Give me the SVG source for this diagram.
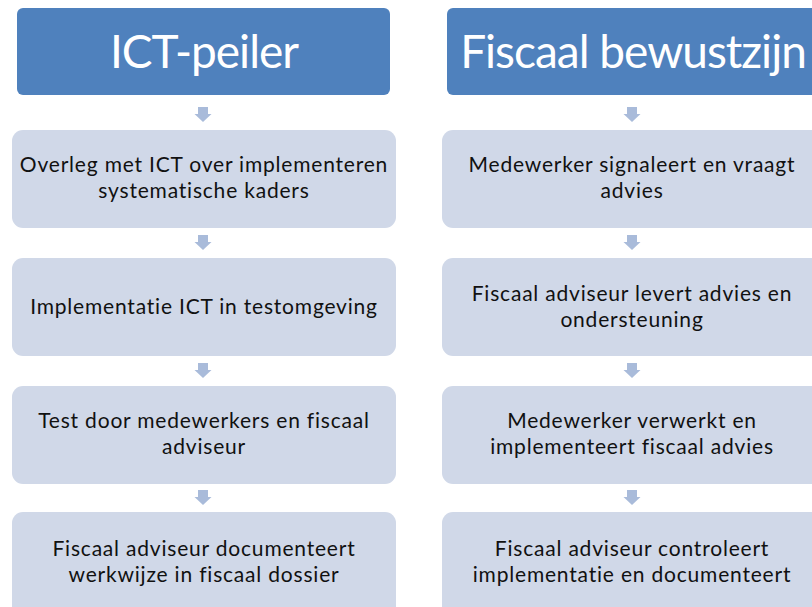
<svg xmlns="http://www.w3.org/2000/svg" width="812" height="607" viewBox="0 0 812 607">
  <defs>
    <style>
      .head { fill: #4F81BD; }
      .step { fill: #D0D8E8; }
      .arrow { fill: #A9BBDA; }
      .htxt { font-family: Lato, "Open Sans", sans-serif; font-size: 46px; letter-spacing: -1px; fill: #FFFFFF; text-anchor: middle; }
      .stxt { font-family: Lato, "Open Sans", sans-serif; font-size: 21px; letter-spacing: 0.8px; fill: #111111; text-anchor: middle; }
    </style>
    <path id="dn" d="M-5,0 H5 V7 H8.5 L0,15 L-8.5,7 H-5 Z"/>
  </defs>

  <!-- left column -->
  <g id="ict-peiler">
    <rect class="head" x="17" y="8" width="373" height="87" rx="6"/>
    <text class="htxt" x="204" y="68">ICT-peiler</text>
  </g>
  <g id="l1">
    <rect class="step" x="12" y="130" width="384" height="98" rx="11"/>
    <text class="stxt" x="204" y="172">Overleg met ICT over implementeren</text>
    <text class="stxt" x="204" y="198">systematische kaders</text>
  </g>
  <g id="l2">
    <rect class="step" x="12" y="258" width="384" height="98" rx="11"/>
    <text class="stxt" x="204" y="314">Implementatie ICT in testomgeving</text>
  </g>
  <g id="l3">
    <rect class="step" x="12" y="386" width="384" height="98" rx="11"/>
    <text class="stxt" x="204" y="428">Test door medewerkers en fiscaal</text>
    <text class="stxt" x="204" y="454">adviseur</text>
  </g>
  <g id="l4">
    <rect class="step" x="12" y="512" width="384" height="110" rx="11"/>
    <text class="stxt" x="204" y="556">Fiscaal adviseur documenteert</text>
    <text class="stxt" x="204" y="582">werkwijze in fiscaal dossier</text>
  </g>

  <!-- right column -->
  <g id="fiscaal-bewustzijn">
    <rect class="head" x="447" y="8" width="373" height="87" rx="6"/>
    <text class="htxt" x="633" y="68">Fiscaal bewustzijn</text>
  </g>
  <g id="r1">
    <rect class="step" x="442" y="130" width="384" height="98" rx="11"/>
    <text class="stxt" x="632" y="172">Medewerker signaleert en vraagt</text>
    <text class="stxt" x="632" y="198">advies</text>
  </g>
  <g id="r2">
    <rect class="step" x="442" y="258" width="384" height="98" rx="11"/>
    <text class="stxt" x="632" y="301">Fiscaal adviseur levert advies en</text>
    <text class="stxt" x="632" y="327">ondersteuning</text>
  </g>
  <g id="r3">
    <rect class="step" x="442" y="386" width="384" height="98" rx="11"/>
    <text class="stxt" x="632" y="428">Medewerker verwerkt en</text>
    <text class="stxt" x="632" y="454">implementeert fiscaal advies</text>
  </g>
  <g id="r4">
    <rect class="step" x="442" y="512" width="384" height="110" rx="11"/>
    <text class="stxt" x="632" y="556">Fiscaal adviseur controleert</text>
    <text class="stxt" x="632" y="582">implementatie en documenteert</text>
  </g>

  <!-- connectors -->
  <g id="connectors" class="arrow">
    <use href="#dn" x="203" y="107"/>
    <use href="#dn" x="203" y="235"/>
    <use href="#dn" x="203" y="363"/>
    <use href="#dn" x="203" y="490"/>
    <use href="#dn" x="632" y="107"/>
    <use href="#dn" x="632" y="235"/>
    <use href="#dn" x="632" y="363"/>
    <use href="#dn" x="632" y="490"/>
  </g>
</svg>
